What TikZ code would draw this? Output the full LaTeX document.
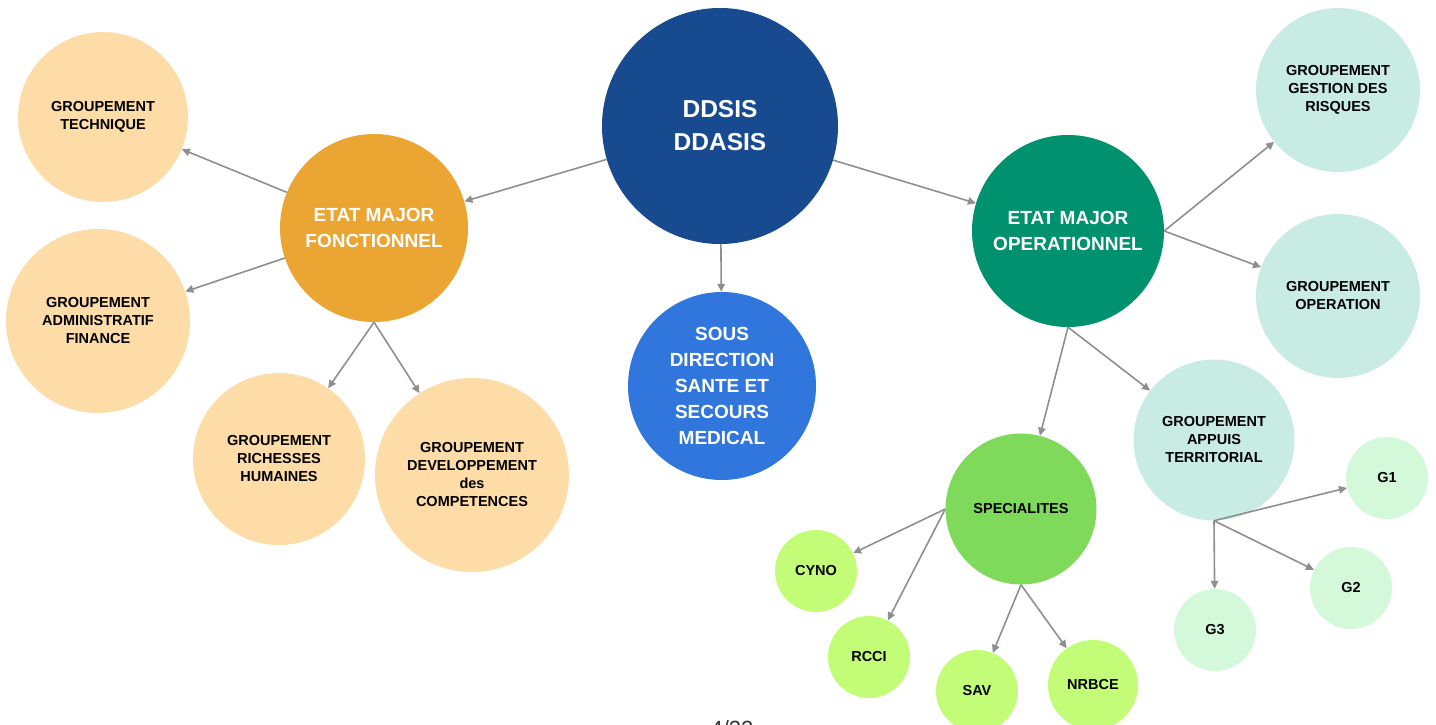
\documentclass[tikz,border=0pt]{standalone}
\usepackage{fontspec}
\setmainfont{Liberation Sans}
\usetikzlibrary{arrows.meta}
\definecolor{cdark}{HTML}{184A90}
\definecolor{corange}{HTML}{EBA533}
\definecolor{clorange}{HTML}{FDDCA8}
\definecolor{cblue}{HTML}{3176DC}
\definecolor{cgreen}{HTML}{00916E}
\definecolor{cteal}{HTML}{C8ECE4}
\definecolor{cpale}{HTML}{D4F9DA}
\definecolor{cspec}{HTML}{7FD95B}
\definecolor{clime}{HTML}{C3FD77}
\definecolor{carrow}{HTML}{8F8F8F}
\tikzset{
  bubble/.style={circle, inner sep=0pt, draw=none, align=center, font=\bfseries},
  bigtxt/.style={text=white, font=\fontsize{24.5}{33}\selectfont\bfseries},
  midtxt/.style={text=white, font=\fontsize{19}{26}\selectfont\bfseries},
  smalltxt/.style={text=black, font=\fontsize{14.5}{18}\selectfont\bfseries},
  tinytxt/.style={text=black, font=\fontsize{14.5}{18}\selectfont\bfseries},
  conn/.style={draw=carrow, line width=1.6pt, -{Triangle[length=8pt,width=7.5pt]}}
}
\begin{document}
\begin{tikzpicture}[x=1pt,y=-1pt]
\useasboundingbox (0,0) rectangle (1436,725);
% main nodes
\node[bubble, fill=cdark, minimum size=236pt, bigtxt] (dd) at (720,126) {\raisebox{-2pt}{DDSIS}\\\raisebox{-2pt}{DDASIS}};
\node[bubble, fill=corange, minimum size=188pt, midtxt] (emf) at (374,228) {ETAT MAJOR\\FONCTIONNEL};
\node[bubble, fill=cblue, minimum size=188pt, midtxt] (sd) at (722,386) {SOUS\\DIRECTION\\SANTE ET\\SECOURS\\MEDICAL};
\node[bubble, fill=cgreen, minimum size=192pt, midtxt] (emo) at (1068,231) {ETAT MAJOR\\OPERATIONNEL};
% fonctionnel children
\node[bubble, fill=clorange, minimum size=170pt, smalltxt] (gt) at (103,117) {GROUPEMENT\\TECHNIQUE};
\node[bubble, fill=clorange, minimum size=184pt, smalltxt] (gaf) at (98,321) {GROUPEMENT\\ADMINISTRATIF\\FINANCE};
\node[bubble, fill=clorange, minimum size=172pt, smalltxt] (grh) at (279,459) {GROUPEMENT\\RICHESSES\\HUMAINES};
\node[bubble, fill=clorange, minimum size=194pt, smalltxt] (gdc) at (472,475) {GROUPEMENT\\DEVELOPPEMENT\\des\\COMPETENCES};
% operationnel children
\node[bubble, fill=cteal, minimum size=164pt, smalltxt] (ggr) at (1338,90) {GROUPEMENT\\GESTION DES\\RISQUES};
\node[bubble, fill=cteal, minimum size=164pt, smalltxt] (go) at (1338,296) {GROUPEMENT\\OPERATION};
\node[bubble, fill=cteal, minimum size=161pt, smalltxt] (gat) at (1214,440) {GROUPEMENT\\APPUIS\\TERRITORIAL};
\node[bubble, fill=cspec, minimum size=151pt, smalltxt] (spec) at (1021,509) {SPECIALITES};
% small
\node[bubble, fill=cpale, minimum size=82pt, tinytxt] (g1) at (1387,478) {G1};
\node[bubble, fill=cpale, minimum size=82pt, tinytxt] (g2) at (1351,588) {G2};
\node[bubble, fill=cpale, minimum size=82pt, tinytxt] (g3) at (1215,630) {G3};
\node[bubble, fill=clime, minimum size=82pt, tinytxt] (cyno) at (816,571) {CYNO};
\node[bubble, fill=clime, minimum size=82pt, tinytxt] (rcci) at (869,657) {RCCI};
\node[bubble, fill=clime, minimum size=82pt, tinytxt] (sav) at (977,691) {SAV};
\node[bubble, fill=clime, minimum size=90pt, tinytxt] (nrbce) at (1093,685) {NRBCE};
% page number
\node[font=\fontsize{22}{26}\selectfont, text=black!80] (pg) at (732,729) {4/22};
% connectors
\draw[conn] (dd) -- (emf);
\draw[conn] (dd) -- (emo);
\draw[conn] (dd) -- (sd);
\draw[conn] (emf) -- (gt);
\draw[conn] (emf) -- (gaf);
\draw[conn] (emf.south) -- (grh);
\draw[conn] (emf.south) -- (gdc);
\draw[conn] (emo.east) -- (ggr);
\draw[conn] (emo.east) -- (go);
\draw[conn] (emo.south) -- (spec);
\draw[conn] (emo.south) -- (gat);
\draw[conn] (gat.south) -- (g1);
\draw[conn] (gat.south) -- (g2);
\draw[conn] (gat.south) -- (g3);
\draw[conn] (spec.west) -- (cyno);
\draw[conn] (spec.west) -- (rcci);
\draw[conn] (spec.south) -- (sav);
\draw[conn] (spec.south) -- (nrbce);
\end{tikzpicture}
\end{document}
